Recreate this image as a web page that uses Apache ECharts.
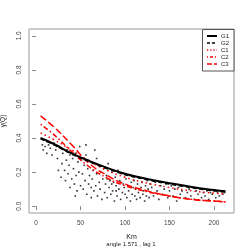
<!DOCTYPE html>
<html><head><meta charset="utf-8">
<script src="https://cdn.jsdelivr.net/npm/echarts@6/dist/echarts.min.js"></script>
<style>html,body{margin:0;padding:0;background:#fff}#c{width:249px;height:249px}</style>
</head><body><div id="c"></div>
<script>
const xTicks = [0, 50, 100, 150, 200];
const yTicks = [0, 0.2, 0.4, 0.6, 0.8, 1.0];
const curveX = [5, 20, 40, 60, 80, 100, 125, 150, 175, 200, 213];
const G1 = [0.40, 0.365, 0.31, 0.265, 0.225, 0.19, 0.16, 0.135, 0.113, 0.095, 0.087];
const G2 = [0.395, 0.36, 0.305, 0.26, 0.22, 0.185, 0.155, 0.13, 0.108, 0.09, 0.082];
const C1 = [0.43, 0.39, 0.33, 0.265, 0.21, 0.17, 0.135, 0.11, 0.09, 0.077, 0.072];
const C2 = [0.48, 0.42, 0.32, 0.23, 0.165, 0.12, 0.085, 0.06, 0.04, 0.03, 0.025];
const C3 = [0.53, 0.465, 0.36, 0.25, 0.18, 0.13, 0.09, 0.06, 0.04, 0.03, 0.025];
const ptsX = [8,10,12,14,16,18,20,22,24,25,26,28,29,30,12,7,
32,33,34,35,36,37,38,40,41,42,43,44,45,46,47,48,49,50,38,44,
51,52,53,54,55,56,57,58,59,60,61,62,63,64,65,66,67,68,69,70,71,72,73,74,75,56,62,68,
76,77,78,79,80,81,82,83,84,85,86,87,88,89,90,91,92,93,94,95,96,97,98,99,100,80,85,90,95,
101,102,103,104,105,106,107,108,109,110,111,112,113,114,115,116,117,118,119,120,121,122,123,124,125,126,127,128,129,130,
132,134,136,138,140,142,144,146,148,150,152,154,156,158,160,162,164,166,168,170,
172,174,176,178,180,182,184,186,188,190,192,194,196,198,200,202,204,206,208,210,212];
const ptsY = [0.33,0.35,0.31,0.36,0.34,0.30,0.37,0.33,0.28,0.21,0.35,0.17,0.25,0.31,0.38,0.36,
0.21,0.15,0.27,0.33,0.19,0.24,0.30,0.16,0.28,0.22,0.13,0.31,0.18,0.09,0.26,0.20,0.35,0.12,0.11,0.06,
0.27,0.19,0.10,0.24,0.15,0.30,0.07,0.22,0.13,0.18,0.26,0.05,0.16,0.21,0.09,0.33,0.12,0.19,0.06,0.24,0.14,0.10,0.20,0.04,0.16,0.36,0.11,0.28,
0.22,0.08,0.13,0.18,0.05,0.25,0.11,0.15,0.07,0.20,0.09,0.14,0.03,0.17,0.12,0.06,0.21,0.10,0.15,0.04,0.19,0.08,0.13,0.11,0.07,0.16,0.13,0.09,0.14,
0.16,0.05,0.12,0.09,0.18,0.03,0.14,0.07,0.11,0.15,0.06,0.10,0.04,0.13,0.08,0.17,0.05,0.11,0.14,0.07,0.09,0.03,0.12,0.06,0.15,0.10,0.05,0.13,0.08,0.11,
0.06,0.14,0.09,0.04,0.12,0.07,0.10,0.13,0.05,0.09,0.12,0.06,0.10,0.03,0.11,0.07,0.09,0.12,0.05,0.08,
0.10,0.06,0.11,0.04,0.09,0.07,0.10,0.05,0.08,0.06,0.09,0.04,0.08,0.07,0.09,0.05,0.08,0.06,0.09,0.07,0.08];
const seriesNames = ['G1','G2','C1','C2','C3'];

const pts = ptsX.map((x,i)=>[x, ptsY[i]]);
const mk = arr => curveX.map((x,i)=>[x, arr[i]]);
const font = '"Liberation Sans", Arial, sans-serif';
const styles = [
  {color:'#000', width:2, type:'solid'},
  {color:'#000', width:1.5, type:[4,3]},
  {color:'#f00', width:1.5, type:[1.5,3]},
  {color:'#f00', width:1.5, type:[1.5,2.5,5,2.5]},
  {color:'#f00', width:1.5, type:[7,3]}
];
const legendDash = [null, [3,2], [1.2,2], [1,2,3,2], [5,2]];
const legendG = [{type:'rect', shape:{x:202.5, y:29.5, width:31.5, height:41.5}, style:{fill:'#fff', stroke:'#555', lineWidth:1}, z:10}];
seriesNames.forEach((n,i)=>{
  const yy = 36 + i*7;
  legendG.push({type:'line', shape:{x1:207, y1:yy, x2:217, y2:yy},
    style:{stroke:styles[i].color, lineWidth:styles[i].width, lineDash:legendDash[i]}, z:11});
  legendG.push({type:'text', x:221, y:yy, style:{text:n, fontSize:6, fill:'#222', fontFamily:font, verticalAlign:'middle'}, z:11});
});
const chart = echarts.init(document.getElementById('c'), null, {renderer:'canvas'});
chart.setOption({
  animation:false,
  grid:{left:29, right:15, top:29, bottom:36, show:true, borderColor:'#999', borderWidth:1, backgroundColor:'transparent',
    containLabel:false, outerBoundsMode:'none'},
  xAxis:{type:'value', min:-8, max:222.5, name:'Km', nameLocation:'middle', nameGap:21,
    nameTextStyle:{fontSize:7, color:'#222', fontFamily:font},
    axisLine:{show:false}, splitLine:{show:false},
    axisTick:{show:true, length:4, customValues:xTicks, lineStyle:{color:'#888'}},
    axisLabel:{customValues:xTicks, fontSize:6.5, color:'#444', margin:7, fontFamily:font}},
  yAxis:{type:'value', min:-0.04, max:1.04, name:'γ(Q)', nameLocation:'middle', nameGap:22,
    nameTextStyle:{fontSize:6.5, color:'#222', fontFamily:font},
    axisLine:{show:false}, splitLine:{show:false},
    axisTick:{show:true, length:4, customValues:yTicks, lineStyle:{color:'#888'}},
    axisLabel:{customValues:yTicks, rotate:90, fontSize:6.5, color:'#444', margin:6, fontFamily:font,
      formatter:v=>v.toFixed(1)}},
  title:{text:'angle 1.571 , lag 1', left:131, textAlign:'center', top:241, padding:0,
    textStyle:{fontSize:6, fontWeight:'normal', color:'#222', fontFamily:font}},
  graphic:legendG,
  series:[
    {type:'scatter', data:pts, symbol:'rect', symbolSize:1.6, itemStyle:{color:'#000'}, silent:true, z:1},
    ...seriesNames.map((n,i)=>({name:n, type:'line', data:mk([G1,G2,C1,C2,C3][i]), smooth:true, symbol:'none',
      lineStyle:styles[i], itemStyle:{color:styles[i].color}, z:i<2?3:2}))
  ]
});
</script></body></html>
